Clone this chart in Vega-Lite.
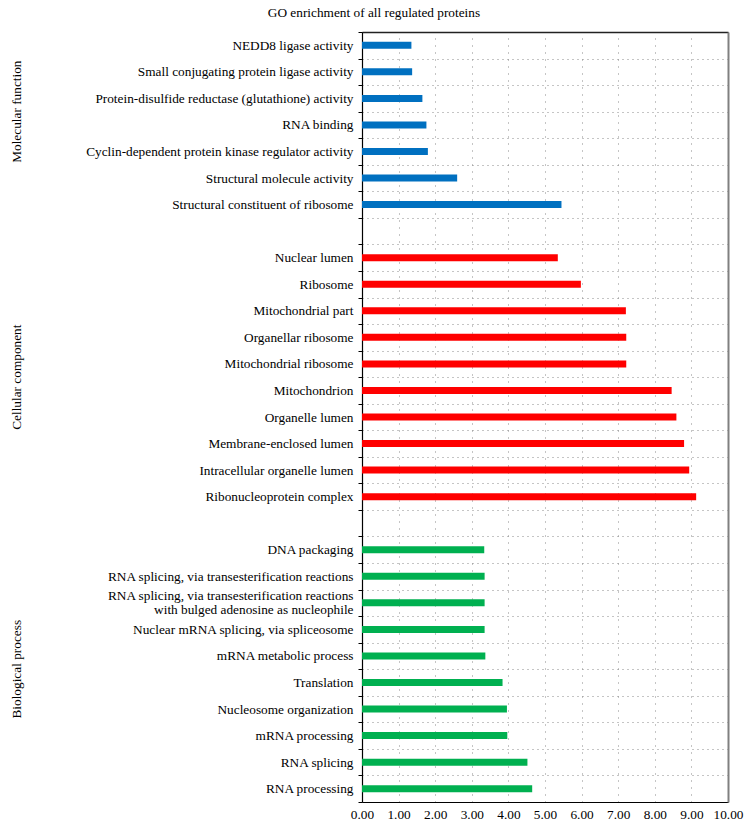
{
  "$schema": "https://vega.github.io/schema/vega-lite/v6.json",
  "background": "white",
  "padding": 5,
  "title": {"text": "GO enrichment of all regulated proteins", "font": "Liberation Serif", "fontSize": 13.3, "fontWeight": "normal", "color": "#000", "anchor": "middle", "offset": 6},
  "config": {"view": {"stroke": null}, "font": "Liberation Serif"},
  "datasets": {
    "terms": [
      {"term": "NEDD8 ligase activity", "group": "Molecular function", "value": 1.35},
      {"term": "Small conjugating protein ligase activity", "group": "Molecular function", "value": 1.37},
      {"term": "Protein-disulfide reductase (glutathione) activity", "group": "Molecular function", "value": 1.65},
      {"term": "RNA binding", "group": "Molecular function", "value": 1.76},
      {"term": "Cyclin-dependent protein kinase regulator activity", "group": "Molecular function", "value": 1.80},
      {"term": "Structural molecule activity", "group": "Molecular function", "value": 2.60},
      {"term": "Structural constituent of ribosome", "group": "Molecular function", "value": 5.45},
      {"term": "Nuclear lumen", "group": "Cellular component", "value": 5.35},
      {"term": "Ribosome", "group": "Cellular component", "value": 5.98},
      {"term": "Mitochondrial part", "group": "Cellular component", "value": 7.21},
      {"term": "Organellar ribosome", "group": "Cellular component", "value": 7.22},
      {"term": "Mitochondrial ribosome", "group": "Cellular component", "value": 7.22},
      {"term": "Mitochondrion", "group": "Cellular component", "value": 8.46},
      {"term": "Organelle lumen", "group": "Cellular component", "value": 8.59},
      {"term": "Membrane-enclosed lumen", "group": "Cellular component", "value": 8.80},
      {"term": "Intracellular organelle lumen", "group": "Cellular component", "value": 8.94},
      {"term": "Ribonucleoprotein complex", "group": "Cellular component", "value": 9.13},
      {"term": "DNA packaging", "group": "Biological process", "value": 3.34},
      {"term": "RNA splicing, via transesterification reactions", "group": "Biological process", "value": 3.35},
      {"term": "RNA splicing, via transesterification reactions with bulged adenosine as nucleophile", "group": "Biological process", "value": 3.35},
      {"term": "Nuclear mRNA splicing, via spliceosome", "group": "Biological process", "value": 3.35},
      {"term": "mRNA metabolic process", "group": "Biological process", "value": 3.37},
      {"term": "Translation", "group": "Biological process", "value": 3.84},
      {"term": "Nucleosome organization", "group": "Biological process", "value": 3.96},
      {"term": "mRNA processing", "group": "Biological process", "value": 3.97},
      {"term": "RNA splicing", "group": "Biological process", "value": 4.52},
      {"term": "RNA processing", "group": "Biological process", "value": 4.65}
    ],
    "groups": [
      {"group": "Molecular function", "anchor": "Protein-disulfide reductase (glutathione) activity"},
      {"group": "Cellular component", "anchor": "Mitochondrial ribosome"},
      {"group": "Biological process", "anchor": "mRNA metabolic process"}
    ]
  },
  "spacing": 56,
  "hconcat": [
    {
      "width": 24,
      "height": 770,
      "data": {"name": "groups"},
      "mark": {"type": "text", "angle": 270, "font": "Liberation Serif", "fontSize": 13.3, "color": "#000", "align": "center", "baseline": "middle"},
      "encoding": {
        "y": {
          "field": "anchor", "type": "nominal", "bandPosition": 1,
          "scale": {"type": "band", "paddingInner": 0, "paddingOuter": 0, "domain": [
            "NEDD8 ligase activity", "Small conjugating protein ligase activity", "Protein-disulfide reductase (glutathione) activity", "RNA binding", "Cyclin-dependent protein kinase regulator activity", "Structural molecule activity", "Structural constituent of ribosome", " ",
            "Nuclear lumen", "Ribosome", "Mitochondrial part", "Organellar ribosome", "Mitochondrial ribosome", "Mitochondrion", "Organelle lumen", "Membrane-enclosed lumen", "Intracellular organelle lumen", "Ribonucleoprotein complex", "  ",
            "DNA packaging", "RNA splicing, via transesterification reactions", "RNA splicing, via transesterification reactions with bulged adenosine as nucleophile", "Nuclear mRNA splicing, via spliceosome", "mRNA metabolic process", "Translation", "Nucleosome organization", "mRNA processing", "RNA splicing", "RNA processing"
          ]},
          "axis": null
        },
        "text": {"field": "group"}
      }
    },
    {
      "width": 366,
      "height": 770,
      "data": {"name": "terms"},
      "layer": [
        {
          "mark": {"type": "bar", "size": 7},
          "encoding": {
            "y": {
              "field": "term", "type": "nominal", "sort": null,
              "scale": {"paddingInner": 0, "paddingOuter": 0, "domain": [
                "NEDD8 ligase activity", "Small conjugating protein ligase activity", "Protein-disulfide reductase (glutathione) activity", "RNA binding", "Cyclin-dependent protein kinase regulator activity", "Structural molecule activity", "Structural constituent of ribosome", " ",
                "Nuclear lumen", "Ribosome", "Mitochondrial part", "Organellar ribosome", "Mitochondrial ribosome", "Mitochondrion", "Organelle lumen", "Membrane-enclosed lumen", "Intracellular organelle lumen", "Ribonucleoprotein complex", "  ",
                "DNA packaging", "RNA splicing, via transesterification reactions", "RNA splicing, via transesterification reactions with bulged adenosine as nucleophile", "Nuclear mRNA splicing, via spliceosome", "mRNA metabolic process", "Translation", "Nucleosome organization", "mRNA processing", "RNA splicing", "RNA processing"
              ]},
              "axis": {
                "orient": "left", "title": null, "tickBand": "extent", "ticks": true, "tickSize": 4, "tickColor": "#000",
                "labelPadding": 5, "labelFont": "Liberation Serif", "labelFontSize": 13.3, "labelColor": "#000", "labelLimit": 0,
                "labelLineHeight": 14,
                "labelExpr": "datum.value == 'RNA splicing, via transesterification reactions with bulged adenosine as nucleophile' ? ['RNA splicing, via transesterification reactions', 'with bulged adenosine as nucleophile'] : datum.value",
                "labelOffset": {"condition": {"test": "datum.value == 'RNA splicing, via transesterification reactions with bulged adenosine as nucleophile'", "value": -7}, "value": 0},
                "grid": true, "gridDash": [1, 4], "gridColor": "#8a8a8a", "gridWidth": 1,
                "domainColor": "#000", "domainWidth": 1.2
              }
            },
            "x": {
              "field": "value", "type": "quantitative",
              "scale": {"domain": [0, 10], "nice": false},
              "axis": {
                "orient": "bottom", "title": null, "values": [0, 1, 2, 3, 4, 5, 6, 7, 8, 9, 10], "format": ".2f",
                "ticks": false, "labelPadding": 5, "labelFont": "Liberation Serif", "labelFontSize": 13.3, "labelColor": "#000",
                "grid": true, "gridDash": [1, 6], "gridColor": "#8a8a8a", "gridWidth": 1,
                "domainColor": "#000", "domainWidth": 1.2, "labelFlush": false
              }
            },
            "color": {
              "field": "group", "type": "nominal",
              "scale": {"domain": ["Molecular function", "Cellular component", "Biological process"], "range": ["#0070C0", "#FF0000", "#00B050"]},
              "legend": null
            }
          }
        },
        {
          "mark": {"type": "bar", "size": 7, "opacity": 0},
          "encoding": {
            "y": {
              "field": "term", "type": "nominal", "sort": null,
              "axis": {"orient": "right", "title": null, "labels": false, "ticks": false, "grid": false, "domainColor": "#808080", "domainWidth": 2}
            },
            "x": {
              "field": "value", "type": "quantitative",
              "axis": {"orient": "top", "title": null, "labels": false, "ticks": false, "grid": false, "domainColor": "#222", "domainWidth": 1.5}
            }
          }
        }
      ],
      "resolve": {"axis": {"x": "independent", "y": "independent"}}
    }
  ]
}
